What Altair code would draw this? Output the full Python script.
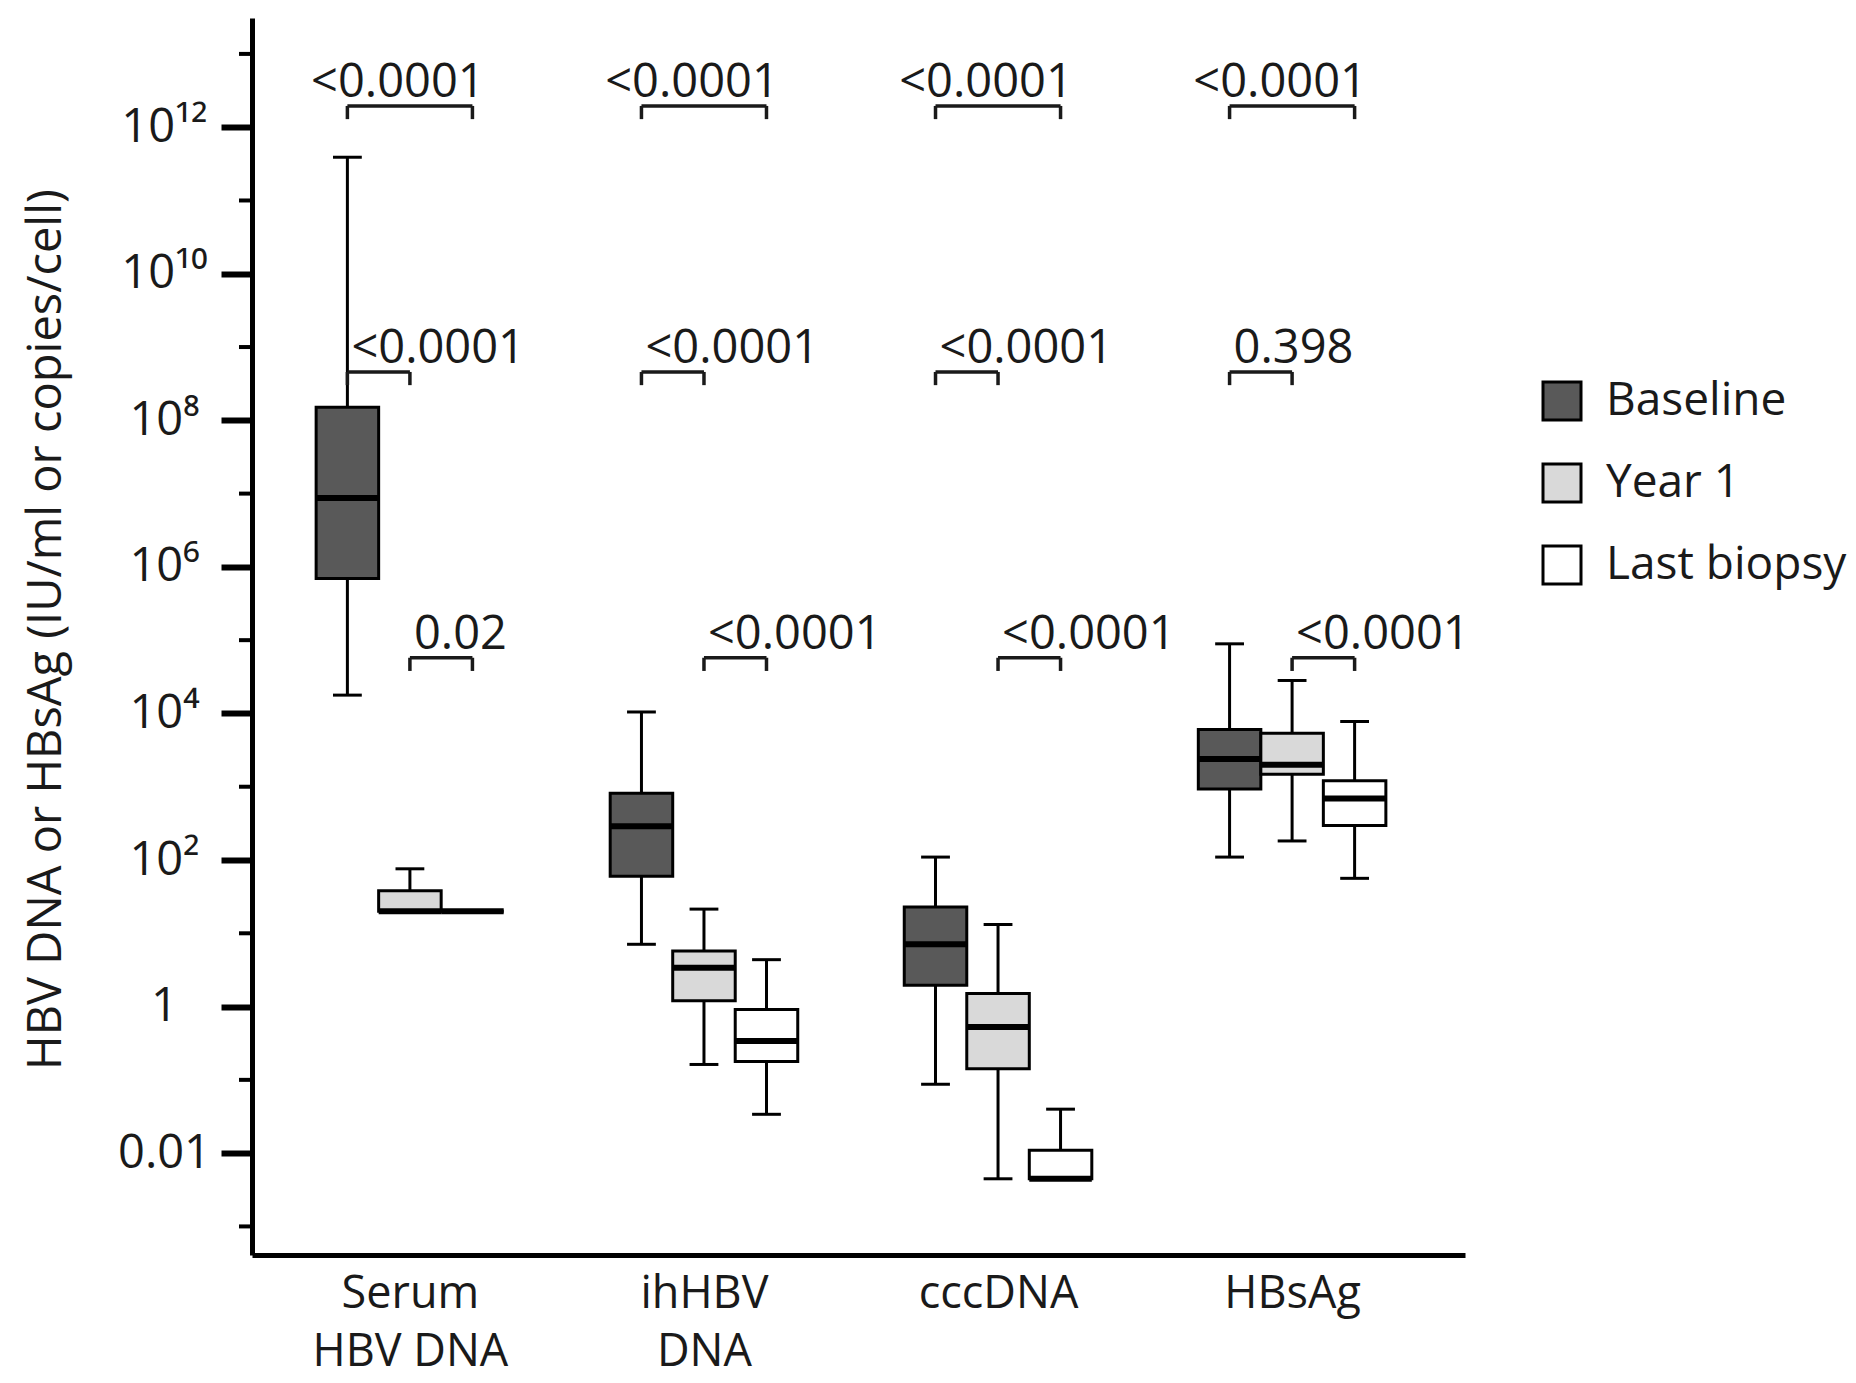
import altair as alt
import pandas as pd

# ---------------- data (log10 values) ----------------
groups = ["Serum HBV DNA", "ihHBV DNA", "cccDNA", "HBsAg"]
group_label_lines = [["Serum", "HBV DNA"], ["ihHBV", "DNA"], ["cccDNA"], ["HBsAg"]]
series = ["Baseline", "Year 1", "Last biopsy"]

# rows = groups, columns = series (Baseline, Year 1, Last biopsy)
whisker_low_log = [[4.25, 1.30, 1.30], [0.85, -0.79, -1.47], [-1.06, -2.35, -2.35], [2.04, 2.26, 1.75]]
q1_log = [[5.84, 1.30, 1.30], [1.78, 0.08, -0.75], [0.29, -0.85, -2.35], [2.97, 3.17, 2.47]]
median_log = [[6.94, 1.30, 1.30], [2.46, 0.53, -0.47], [0.85, -0.28, -2.35], [3.38, 3.30, 2.84]]
q3_log = [[8.18, 1.58, 1.30], [2.91, 0.76, -0.04], [1.36, 0.18, -1.96], [3.78, 3.73, 3.08]]
whisker_high_log = [[11.59, 1.88, 1.30], [4.02, 1.33, 0.64], [2.04, 1.12, -1.40], [4.95, 4.45, 3.89]]

# p-values
p_last_vs_baseline = ["<0.0001", "<0.0001", "<0.0001", "<0.0001"]
p_year1_vs_baseline = ["<0.0001", "<0.0001", "<0.0001", "0.398"]
p_last_vs_year1 = ["0.02", "<0.0001", "<0.0001", "<0.0001"]

# axis ticks
major_exp = [-2, 0, 2, 4, 6, 8, 10, 12]
major_labels = ["0.01", "1", "10²", "10⁴", "10⁶", "10⁸", "10¹⁰", "10¹²"]
minor_exp = [-3, -1, 1, 3, 5, 7, 9, 11, 13]

colors = ["#595959", "#d9d9d9", "#ffffff"]

# ---------------- layout constants ----------------
BOX_W = 0.2126          # box width in group units
CAP_HALF = 0.049        # half width of whisker caps
BRACKET_LEVELS = [12.29, 8.66, 4.76]   # log10 heights of the bracket lines
BRACKET_DROP = 0.18     # decades

X_DOMAIN = [-0.537, 3.588]
Y_DOMAIN = [10 ** -3.39, 10 ** 13.49]
FONT = "Open Sans"

rows = []
for gi, g in enumerate(groups):
    for si, s in enumerate(series):
        cx = gi + (si - 1) * BOX_W
        rows.append(dict(
            group=g, series=s, x=cx,
            bx1=cx - BOX_W / 2, bx2=cx + BOX_W / 2,
            cx1=cx - CAP_HALF, cx2=cx + CAP_HALF,
            lo=10 ** whisker_low_log[gi][si], q1=10 ** q1_log[gi][si],
            med=10 ** median_log[gi][si], q3=10 ** q3_log[gi][si],
            hi=10 ** whisker_high_log[gi][si],
        ))
df = pd.DataFrame(rows)

br_rows = []
pairs = [(0, 2, p_last_vs_baseline, 0), (0, 1, p_year1_vs_baseline, 1), (1, 2, p_last_vs_year1, 2)]
for gi, g in enumerate(groups):
    for a, b, plist, lvl in pairs:
        xa = gi + (a - 1) * BOX_W
        xb = gi + (b - 1) * BOX_W
        y = 10 ** BRACKET_LEVELS[lvl]
        y2 = 10 ** (BRACKET_LEVELS[lvl] - BRACKET_DROP)
        br_rows.append(dict(group=g, level=lvl, xa=xa, xb=xb, xm=(xa + xb) / 2,
                            y=y, y2=y2, p=plist[gi]))
br = pd.DataFrame(br_rows)

minor_df = pd.DataFrame({"v": [10 ** e for e in minor_exp]})

x_scale = alt.Scale(domain=X_DOMAIN, nice=False, zero=False)
y_scale = alt.Scale(type="log", domain=Y_DOMAIN, nice=False)


def y_label_expr():
    parts = []
    for e, lab in zip(major_exp, major_labels):
        parts.append(f"datum.value < {10 ** (e + 1):.6g} ? '{lab}'")
    return " : ".join(parts) + " : ''"


def x_label_expr():
    parts = []
    for gi, lines in enumerate(group_label_lines):
        arr = "[" + ", ".join(f"'{l}'" for l in lines) + "]"
        parts.append(f"datum.value == {gi} ? {arr}")
    return " : ".join(parts) + " : ''"


x_axis = alt.Axis(values=list(range(len(groups))), labelExpr=x_label_expr(), title=None,
                  ticks=False, grid=False, domainColor="black", domainWidth=5,
                  labelFont=FONT, labelFontSize=45, labelColor="#1a1a1a",
                  labelPadding=16, labelLineHeight=58, labelLimit=0,
                  labelFlush=False, labelOverlap=False)
y_axis = alt.Axis(values=[10 ** e for e in major_exp], labelExpr=y_label_expr(),
                  title="HBV DNA or HBsAg (IU/ml or copies/cell)",
                  titleFont=FONT, titleFontSize=47, titleFontWeight="normal", titleColor="#1a1a1a",
                  titleAngle=270, titleBaseline="alphabetic", titleX=-192, titleY=611,
                  grid=False, domainColor="black", domainWidth=5,
                  tickColor="black", tickWidth=6, tickSize=31,
                  labelFont=FONT, labelFontSize=47, labelColor="#1a1a1a",
                  labelAlign="center", labelBaseline="middle", labelPadding=57,
                  labelLimit=0, labelFlush=False, labelOverlap=False)

base = alt.Chart(df)

whiskers = base.mark_rule(color="black", strokeWidth=3).encode(
    x=alt.X("x:Q", scale=x_scale, axis=x_axis),
    y=alt.Y("lo:Q", scale=y_scale, axis=y_axis),
    y2="hi:Q",
)
cap_lo = base.mark_rule(color="black", strokeWidth=3).encode(
    x=alt.X("cx1:Q", scale=x_scale), x2="cx2:Q", y=alt.Y("lo:Q", scale=y_scale))
cap_hi = base.mark_rule(color="black", strokeWidth=3).encode(
    x=alt.X("cx1:Q", scale=x_scale), x2="cx2:Q", y=alt.Y("hi:Q", scale=y_scale))

boxes = base.mark_bar(stroke="black", strokeWidth=3, opacity=1).encode(
    x=alt.X("bx1:Q", scale=x_scale), x2="bx2:Q",
    y=alt.Y("q1:Q", scale=y_scale), y2="q3:Q",
    color=alt.Color("series:N", scale=alt.Scale(domain=series, range=colors),
                    legend=alt.Legend(title=None, orient="none", legendX=1287, legendY=360,
                                      symbolType="square", symbolSize=1444,
                                      symbolStrokeColor="black", symbolStrokeWidth=3,
                                      symbolOpacity=1,
                                      labelFont=FONT, labelFontSize=46, labelColor="#1a1a1a",
                                      labelLimit=0,
                                      labelOffset=21, rowPadding=32, padding=0)),
)
medians = base.mark_rule(color="black", strokeWidth=6).encode(
    x=alt.X("bx1:Q", scale=x_scale), x2="bx2:Q", y=alt.Y("med:Q", scale=y_scale))

minor_ticks = alt.Chart(minor_df).mark_rule(color="black", strokeWidth=4).encode(
    x=alt.value(0), x2=alt.value(-13), y=alt.Y("v:Q", scale=y_scale))

bchart = alt.Chart(br)
br_h = bchart.mark_rule(color="#1a1a1a", strokeWidth=3.5).encode(
    x=alt.X("xa:Q", scale=x_scale), x2="xb:Q", y=alt.Y("y:Q", scale=y_scale))
br_l = bchart.mark_rule(color="#1a1a1a", strokeWidth=3.5).encode(
    x=alt.X("xa:Q", scale=x_scale), y=alt.Y("y:Q", scale=y_scale), y2="y2:Q")
br_r = bchart.mark_rule(color="#1a1a1a", strokeWidth=3.5).encode(
    x=alt.X("xb:Q", scale=x_scale), y=alt.Y("y:Q", scale=y_scale), y2="y2:Q")

txt_top = bchart.transform_filter("datum.level == 0").mark_text(
    font=FONT, fontSize=47, color="#1a1a1a", align="center", baseline="alphabetic", dx=-12, dy=-9
).encode(x=alt.X("xm:Q", scale=x_scale), y=alt.Y("y:Q", scale=y_scale), text="p:N")
txt_rest = bchart.transform_filter("datum.level > 0").mark_text(
    font=FONT, fontSize=47, color="#1a1a1a", align="left", baseline="alphabetic", dx=4, dy=-9
).encode(x=alt.X("xa:Q", scale=x_scale), y=alt.Y("y:Q", scale=y_scale), text="p:N")

chart = alt.layer(
    whiskers, cap_lo, cap_hi, boxes, medians, minor_ticks,
    br_h, br_l, br_r, txt_top, txt_rest
).properties(
    width=1213, height=1237,
    autosize=alt.AutoSizeParams(type="none"),
    padding={"left": 252, "top": 18, "right": 391, "bottom": 128},
    background="white",
).configure_view(stroke=None)

chart.save("out.html", embed_options={"renderer": "svg", "actions": False})
